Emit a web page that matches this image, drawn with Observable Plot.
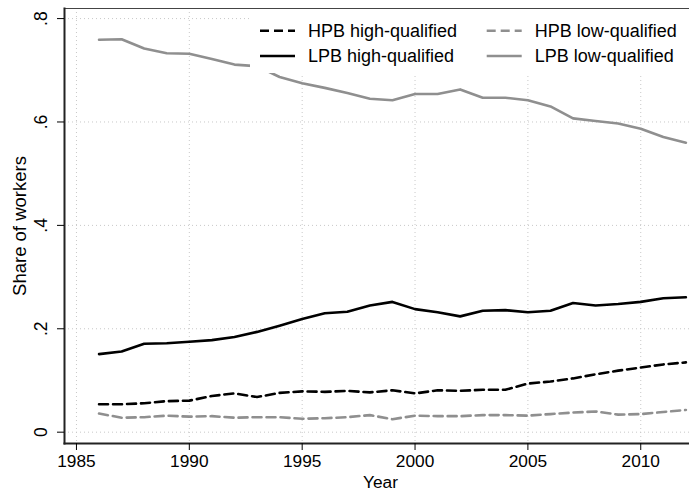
<!DOCTYPE html>
<html>
<head>
<meta charset="utf-8">
<script src="https://cdn.jsdelivr.net/npm/d3@7"></script>
<script src="https://cdn.jsdelivr.net/npm/@observablehq/plot@0.6"></script>
<style>
  body { margin: 0; background: white; }
  #chart { position: relative; width: 689px; height: 494px; font-family: "Liberation Sans", Arial, sans-serif; }
  #legend { position: absolute; left: 250px; top: 12px; }
</style>
</head>
<body>
<div id="chart"></div>
<script>
// years of observation
const years = [1986, 1987, 1988, 1989, 1990, 1991, 1992, 1993, 1994, 1995, 1996, 1997, 1998,
  1999, 2000, 2001, 2002, 2003, 2004, 2005, 2006, 2007, 2008, 2009, 2010, 2011, 2012]

// share of workers per group
const hpbHigh = [0.054, 0.054, 0.056, 0.060, 0.061, 0.070, 0.075, 0.068, 0.076, 0.079, 0.078, 0.080, 0.077,
  0.081, 0.075, 0.081, 0.080, 0.082, 0.082, 0.094, 0.098, 0.104, 0.112, 0.119, 0.125, 0.131, 0.135]
const lpbHigh = [0.151, 0.156, 0.171, 0.172, 0.175, 0.178, 0.184, 0.194, 0.206, 0.219, 0.230, 0.233, 0.245,
  0.252, 0.238, 0.232, 0.224, 0.235, 0.236, 0.232, 0.235, 0.250, 0.245, 0.248, 0.252, 0.259, 0.261]
const hpbLow = [0.036, 0.028, 0.029, 0.032, 0.030, 0.031, 0.028, 0.029, 0.029, 0.026, 0.027, 0.029, 0.033,
  0.025, 0.032, 0.031, 0.031, 0.033, 0.033, 0.032, 0.035, 0.038, 0.040, 0.034, 0.035, 0.039, 0.043]
const lpbLow = [0.759, 0.760, 0.742, 0.733, 0.732, 0.722, 0.711, 0.708, 0.687, 0.675, 0.666, 0.656, 0.645,
  0.642, 0.654, 0.654, 0.663, 0.647, 0.647, 0.642, 0.630, 0.607, 0.602, 0.597, 0.587, 0.571, 0.560]

const seriesNames = ['HPB high-qualified', 'LPB high-qualified', 'HPB low-qualified', 'LPB low-qualified']
const seriesValues = [hpbHigh, lpbHigh, hpbLow, lpbLow]

// axis ticks
const xTicks = [1985, 1990, 1995, 2000, 2005, 2010]
const yTicks = [0, 0.2, 0.4, 0.6, 0.8]

// look of each series
const gray = '#8f8f8f'
const styles = [
  {stroke: 'black', dash: '9,5'},
  {stroke: 'black', dash: null},
  {stroke: gray, dash: '9,5'},
  {stroke: gray, dash: null},
]

const font = '"Liberation Sans", Arial, sans-serif'

let chart = Plot.plot({
  width: 689,
  height: 494,
  marginLeft: 64,
  marginRight: 0,
  marginTop: 8,
  marginBottom: 51,
  style: {fontFamily: font, fontSize: '17px', color: 'black', background: 'white'},
  x: {domain: [1984.47, 2012.47], range: [64, 696]},
  y: {domain: [-0.0219, 0.8195]},
  marks: [
    Plot.gridX(xTicks, {stroke: '#c8c8c8', strokeOpacity: 1, strokeDasharray: '1,3'}),
    Plot.gridY(yTicks, {stroke: '#c8c8c8', strokeOpacity: 1, strokeDasharray: '1,3'}),
    Plot.frame({anchor: 'top', stroke: '#444', strokeWidth: 1.2}),
    Plot.frame({anchor: 'left', stroke: '#222', strokeWidth: 2}),
    Plot.frame({anchor: 'bottom', stroke: '#222', strokeWidth: 2}),
    Plot.axisX({ticks: xTicks, tickSize: 7, tickFormat: () => '', label: null}),
    Plot.axisY({ticks: yTicks, tickSize: 7, tickFormat: () => '', label: null}),
    // x tick labels
    Plot.text(xTicks, {
      x: d => d,
      text: d => String(d),
      frameAnchor: 'bottom', dy: 18.2,
      textAnchor: 'middle', lineAnchor: 'middle', fontSize: 17.3
    }),
    // rotated y tick labels, Stata style
    Plot.text(yTicks, {
      y: d => d,
      text: d => d === 0 ? '0' : String(d).replace('0.', '.'),
      frameAnchor: 'left', dx: -23, rotate: -90,
      textAnchor: 'middle', lineAnchor: 'middle', fontSize: 17.5
    }),
    Plot.text(['Share of workers'], {
      frameAnchor: 'left', dx: -44, rotate: -90,
      textAnchor: 'middle', lineAnchor: 'middle', fontSize: 18.5
    }),
    Plot.text(['Year'], {
      frameAnchor: 'bottom', dx: 3.5, dy: 38.6,
      textAnchor: 'middle', lineAnchor: 'middle', fontSize: 17.3
    }),
    ...seriesValues.map((vals, k) => Plot.line(vals, {
      x: (d, i) => years[i],
      y: d => d,
      stroke: styles[k].stroke,
      strokeWidth: 2.6,
      strokeDasharray: styles[k].dash,
      strokeLinejoin: 'round'
    }))
  ]
})

d3.select('#chart').append(() => chart)

// legend inside plot region, white box over the lines
const legend = d3.select('#chart').append('svg')
  .attr('id', 'legend')
  .attr('width', 439)
  .attr('height', 61)
legend.append('rect').attr('width', 439).attr('height', 61).attr('fill', 'white')

const cols = [10, 236.7]
const rows = [18.7, 44]
seriesNames.forEach((name, k) => {
  const cx = cols[Math.floor(k / 2)]
  const cy = rows[k % 2]
  legend.append('line')
    .attr('x1', cx).attr('x2', cx + 35)
    .attr('y1', cy).attr('y2', cy)
    .attr('stroke', styles[k].stroke)
    .attr('stroke-width', 2.6)
    .attr('stroke-dasharray', styles[k].dash)
  legend.append('text')
    .attr('x', cx + 48)
    .attr('y', cy + 6.4)
    .attr('font-family', font)
    .attr('font-size', 18)
    .text(name)
})
</script>
</body>
</html>
